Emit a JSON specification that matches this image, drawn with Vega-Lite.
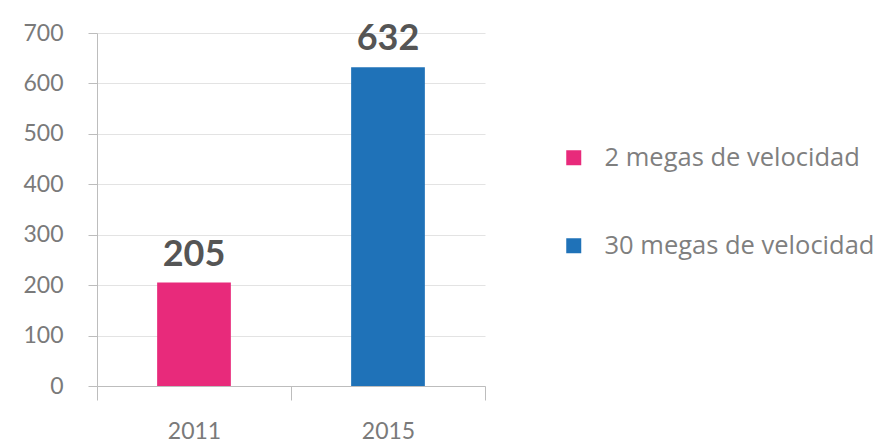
{
  "$schema": "https://vega.github.io/schema/vega-lite/v6.json",
  "width": 388,
  "height": 353,
  "autosize": "none",
  "padding": {"left": 97, "top": 33, "right": 406, "bottom": 59},
  "background": "white",
  "config": {
    "view": {"stroke": null},
    "font": "Lato"
  },
  "data": {
    "values": [
      {"year": "2011", "value": 205, "serie": "2 megas de velocidad"},
      {"year": "2015", "value": 632, "serie": "30 megas de velocidad"}
    ]
  },
  "encoding": {
    "x": {
      "field": "year",
      "type": "nominal",
      "title": null,
      "scale": {"paddingInner": 0, "paddingOuter": 0},
      "axis": {
        "labelAngle": 0,
        "labelFontSize": 23,
        "labelColor": "#7a7a7a",
        "labelPadding": 20,
        "tickSize": 14,
        "tickColor": "#bdbdbd",
        "domainColor": "#bdbdbd",
        "tickBand": "extent",
        "grid": false
      }
    },
    "y": {
      "field": "value",
      "type": "quantitative",
      "title": null,
      "scale": {"domain": [0, 700]},
      "axis": {
        "values": [0, 100, 200, 300, 400, 500, 600, 700],
        "labelFontSize": 23,
        "labelColor": "#7a7a7a",
        "labelPadding": 25,
        "tickSize": 9,
        "tickColor": "#bdbdbd",
        "domainColor": "#bdbdbd",
        "gridColor": "#e3e3e3"
      }
    }
  },
  "layer": [
    {
      "mark": {"type": "bar", "width": {"band": 0.38}},
      "encoding": {
        "color": {
          "field": "serie",
          "type": "nominal",
          "scale": {
            "domain": ["2 megas de velocidad", "30 megas de velocidad"],
            "range": ["#E82A7B", "#1F72B8"]
          },
          "legend": {
            "title": null,
            "orient": "none",
            "legendX": 464,
            "legendY": 112,
            "symbolType": "square",
            "symbolSize": 225,
            "symbolStrokeWidth": 0,
            "labelFont": "Open Sans",
            "labelFontSize": 25.5,
            "labelColor": "#7f7f7f",
            "labelOffset": 18,
            "labelLimit": 0,
            "rowPadding": 61
          }
        }
      }
    },
    {
      "mark": {"type": "text", "baseline": "alphabetic", "dy": -17, "fontSize": 36, "fontWeight": "bold", "color": "#555555"},
      "encoding": {
        "text": {"field": "value", "type": "quantitative"}
      }
    }
  ]
}
